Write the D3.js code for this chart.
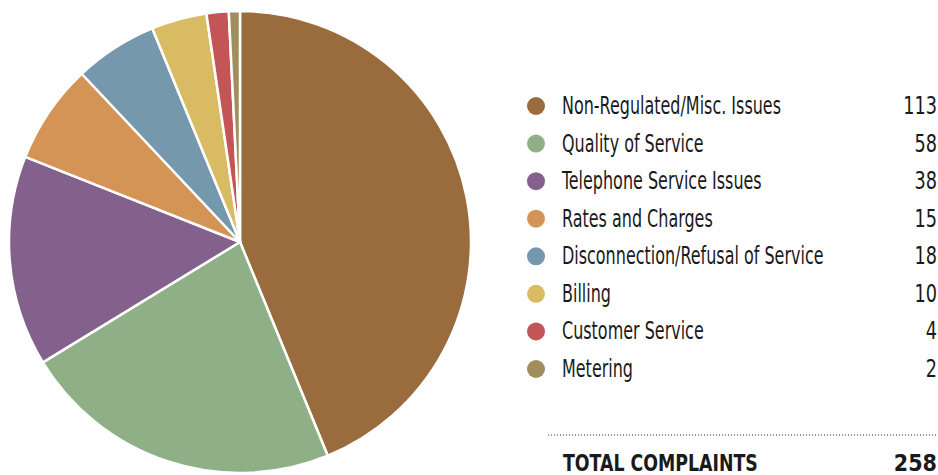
<!DOCTYPE html>
<html>
<head>
<meta charset="utf-8">
<script src="https://cdn.jsdelivr.net/npm/d3@7"></script>
<style>
  body { margin: 0; background: #fff; }
  svg { display: block; }
  .lbl { font-family: "DejaVu Sans Condensed", "DejaVu Sans", sans-serif; fill: #1a1a1a; }
</style>
</head>
<body>
<svg width="938" height="475"></svg>
<script>
var categories = ["Non-Regulated/Misc. Issues", "Quality of Service", "Telephone Service Issues",
  "Rates and Charges", "Disconnection/Refusal of Service", "Billing", "Customer Service", "Metering"];
// valori stampati in legenda
var counts = [113, 58, 38, 15, 18, 10, 4, 2];
// ampiezza delle fette come appare nel grafico (arancio e blu risultano scambiati)
var sliceValues = [113, 58, 38, 18, 15, 10, 4, 2];
var colors = ["#9a6c3d", "#8fb087", "#84618c", "#d49455", "#7598ac", "#d9bb63", "#c45556", "#a08e5f"];
var totalLabel = "TOTAL COMPLAINTS";

var svg = d3.select("svg");
var cx = 240, cy = 242, r = 231;

var data = categories.map(function(c, i) {
  return {key: c, value: counts[i], slice: sliceValues[i], color: colors[i]};
});

var pie = d3.pie().sort(null).value(function(d) { return d.slice; });
var arc = d3.arc().innerRadius(0).outerRadius(r);

svg.append("g")
  .attr("transform", "translate(" + cx + "," + cy + ")")
  .selectAll("path")
  .data(pie(data))
  .enter().append("path")
  .attr("d", arc)
  .attr("fill", function(d) { return d.data.color; })
  .attr("stroke", "#fff")
  .attr("stroke-width", 2.5)
  .attr("stroke-linejoin", "round");

// legenda
var y = d3.scalePoint().domain(categories).range([106, 369]);
var lx = 536, tx = 562, vx = 937;

var rows = svg.append("g").selectAll("g").data(data).enter().append("g")
  .attr("transform", function(d) { return "translate(0," + y(d.key) + ")"; });

rows.append("circle")
  .attr("cx", lx).attr("cy", 0).attr("r", 9)
  .attr("fill", function(d) { return d.color; });

rows.append("text")
  .attr("class", "lbl")
  .attr("transform", "translate(" + tx + ",8) scale(0.74,1)")
  .style("font-size", "24px")
  .text(function(d) { return d.key; });

rows.append("text")
  .attr("class", "lbl")
  .attr("transform", "translate(" + vx + ",8) scale(0.82,1)")
  .attr("text-anchor", "end")
  .style("font-size", "24px")
  .text(function(d) { return d.value; });

// totale
svg.append("line")
  .attr("x1", 548).attr("x2", 937)
  .attr("y1", 435).attr("y2", 435)
  .attr("stroke", "#333")
  .attr("stroke-width", 1)
  .attr("stroke-dasharray", "1,2");

svg.append("text")
  .attr("class", "lbl")
  .attr("transform", "translate(563,471) scale(0.84,1)")
  .style("font-size", "23px")
  .style("font-weight", "bold")
  .text(totalLabel);

svg.append("text")
  .attr("class", "lbl")
  .attr("transform", "translate(" + vx + ",471)")
  .attr("text-anchor", "end")
  .style("font-size", "23px")
  .style("font-weight", "bold")
  .text(d3.sum(counts));
</script>
</body>
</html>
